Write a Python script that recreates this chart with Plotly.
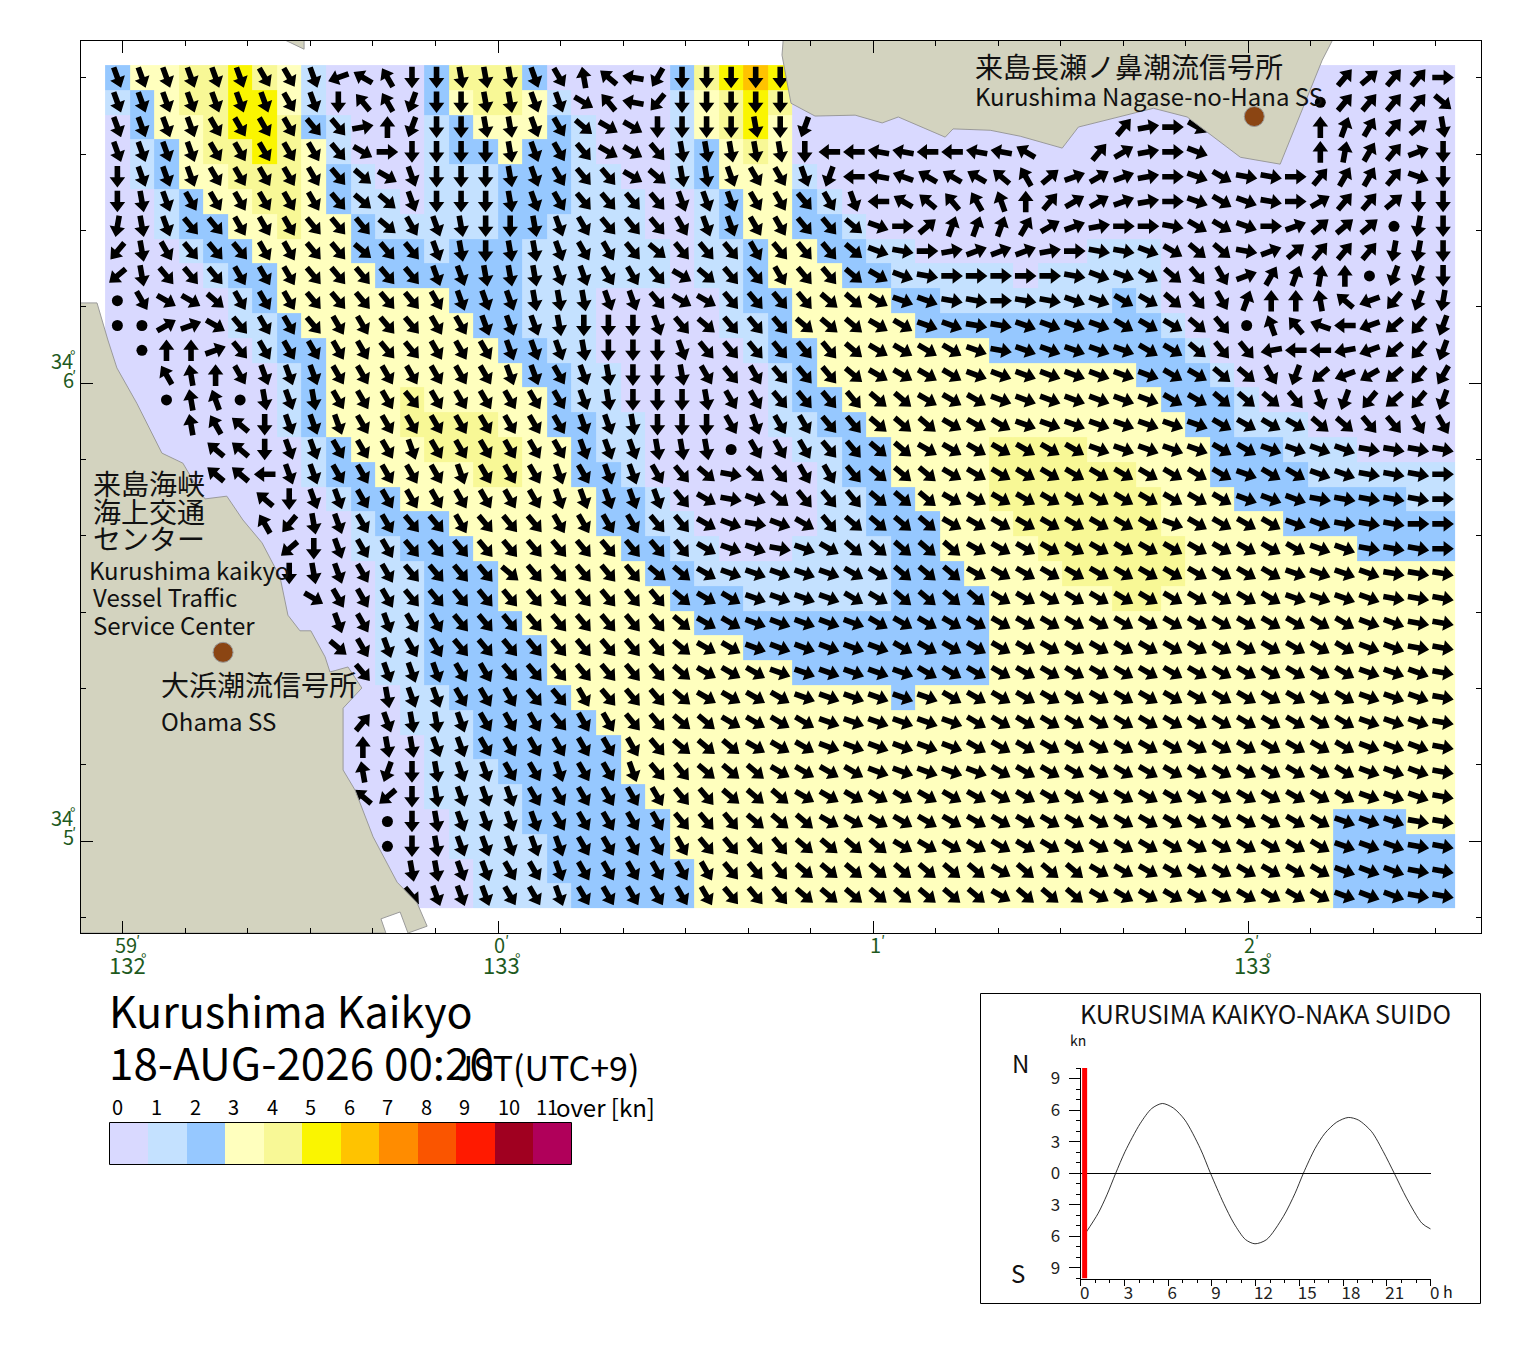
import numpy as np
import plotly.graph_objects as go

# current speed class per cell (0 = under 1 kn, 1 = 1-2 kn ...), north row first
speed_rows = [
    "2334454310000244420000024565" + "0"*27,
    "1234455310000234431000013454" + "0"*27,
    "0233455421000123332100013453" + "0"*27,
    "0123445431000122322100012343" + "0"*27,
    "01233444321001112221100123331" + "0"*26,
    "001233443211011122211100123321" + "0"*25,
    "0012233433211111221111001233221" + "0"*24,
    "000122333322212221111110112332211" + "0"*7 + "111" + "0"*12,
    "0000" + "1" + "22" + "3333" + "222222" + "111111" + "0" + "11" + "2" + "333" + "22" + "11111" + "0" + "11111" + "0"*12,
    "00000" + "1" + "2" + "3"*7 + "222" + "111" + "00000" + "1" + "22" + "3333" + "22" + "1"*7 + "2" + "1" + "0"*12,
    "00000" + "11" + "2" + "3"*7 + "22" + "111" + "00000" + "11" + "2" + "33333" + "2"*10 + "1" + "0"*11,
    "0"*6 + "1" + "22" + "3"*7 + "22" + "11" + "0"*6 + "1" + "22" + "3"*7 + "2"*8 + "1" + "0"*10,
    "0"*7 + "1" + "2" + "3"*8 + "22" + "11" + "0"*6 + "1" + "2" + "3"*13 + "222" + "1" + "0"*9,
    "0"*7 + "1" + "2" + "333" + "4" + "3"*5 + "2" + "11" + "0"*6 + "1" + "22" + "3"*13 + "222" + "1" + "0"*8,
    "0"*7 + "1" + "2" + "333" + "4444" + "33" + "22" + "11" + "0"*5 + "11" + "22" + "3"*13 + "22" + "111" + "0"*6,
    "0"*8 + "1" + "2" + "333" + "4444" + "33" + "2" + "11" + "0"*6 + "11" + "22" + "3333" + "4444" + "3"*5 + "222" + "111" + "0000",
    "0"*8 + "1" + "22" + "3333" + "44" + "33" + "22" + "1" + "0"*7 + "1" + "22" + "3333" + "4"*6 + "333" + "2222" + "1"*6,
    "0"*9 + "1" + "22" + "3"*8 + "22" + "1" + "0"*6 + "11" + "22" + "333" + "4"*7 + "333" + "2"*7 + "11",
    "0"*10 + "1" + "222" + "3"*6 + "22" + "11" + "0"*5 + "11" + "222" + "333" + "4"*6 + "3"*5 + "2"*7,
    "0"*10 + "11" + "222" + "3"*6 + "22" + "11" + "000" + "1111" + "22" + "3333" + "4"*6 + "3"*7 + "2222",
    "0"*11 + "11" + "222" + "3"*6 + "22" + "1"*8 + "222" + "3333" + "4"*5 + "3"*11,
    "0"*11 + "11" + "222" + "3"*7 + "222" + "1"*6 + "2222" + "3"*5 + "44" + "3"*12,
    "0"*11 + "11" + "2222" + "3"*7 + "2"*12 + "3"*19,
    "0"*11 + "11" + "2"*5 + "3"*8 + "2"*10 + "3"*19,
    "0"*11 + "11" + "2"*5 + "3"*10 + "2"*8 + "3"*19,
    "0"*12 + "11" + "2"*5 + "3"*13 + "2" + "3"*22,
    "0"*12 + "111" + "2"*5 + "3"*35,
    "0"*13 + "11" + "2"*6 + "3"*34,
    "0"*13 + "111" + "2"*5 + "3"*34,
    "0"*13 + "1111" + "2"*5 + "3"*33,
    "0"*14 + "111" + "2"*6 + "3"*27 + "222" + "33",
    "0"*14 + "1111" + "2"*5 + "3"*27 + "2"*5,
    "0"*15 + "111" + "2"*6 + "3"*26 + "2"*5,
    "0"*15 + "1111" + "2"*5 + "3"*26 + "2"*5,
]

# flow bearing per cell, base 36 in tens of degrees (i = 180, r = 270), * slack, . no arrow
bearing_rows = [
    "ggggggffgpuxiihhhgfzvsliiiii" + "."*22 + "45449",
    "gggggggfgiwxkiihhggcwsmiiiii" + "."*21 + "*4444d",
    "ggggffffee80kiihhgfdcciiiihik" + "."*12 + "489c" + "...." + "02345h",
    "ggggfffffec9iiiihgfeccehhhhhirrssrrssu..4689b....01347i",
    "igggfffffedcgiiihgfeecdhhgffgkrstuuuvx576789bcaa94334bi",
    "ihgffffffeddgiiihgfeeeegggffefgruvwxy0466789bcba96445ii",
    "jhgeefffeeedfghiihgfeeefggffeedb95222367899accb97555*ji",
    "mhfeeeffeedeeghihhgffedeeefeeedba9877789aabcdda75444jji",
    "nheeefffeeeeegghhhggffecdeefeedcba99999abbcdef73210*kki",
    "*fccdfffeeeeefggghhhggecceeeeddcbbaa9aabbccdef200zvpmkj",
    "**67ceffeffeeffggghiiigedeeedddccbbaabbbbcccde*ywtrpnmk",
    ".*007efffffeefffggghiiigeeeeeedccccbabbbbbccdeeqrrqpnmk",
    "..xz0fgggfffffffggfghiihfefeeedccccbbbbbbbbccddfknponml",
    "..*zy*hghfffeffffffghiiihffeeeeddcccbbbbbbbccdddegkmnmk",
    "...zxvigggfffffffffgghiiifgffeedddcccbbbbbbbbccccddeeff",
    "....vviggfffgffffffggghhh*fffeeddcccccccbbbbbccbbbbaaaa",
    "....vvrggfffffgfffgfggfedadeffedddccccccccccccbccbbaaa9",
    "......viggffffffffgggggecabdeeedddccccccccccccbbbaaaaa9",
    "......xmhgffeefeeeffffeecbabcedddd" + "c"*9 + "bccccbbaaa99",
    "."*7 + "nigff" + "e"*12 + "cbbabc" + "ddddd" + "c"*14 + "bbaaa9",
    "."*7 + "ihgff" + "eeee" + "d" + "eeeee" + "dd" + "c" + "bbbbb" + "cc" + "ddd" + "c"*13 + "bbbb" + "aaa",
    "."*8 + "cfff" + "e"*11 + "dcc" + "bbbb" + "cc" + "dddd" + "c"*12 + "bbbb" + "aaa",
    "."*9 + "gfgff" + "e"*9 + "dcc" + "bbbbb" + "c"*20 + "bbaa",
    "."*9 + "dfgff" + "e"*9 + "dcc" + "b"*6 + "c"*19 + "bbaa",
    "."*10 + "eggg" + "ff" + "e"*7 + "d" + "ccc" + "b"*6 + "c"*18 + "bbba",
    "."*11 + "hgg" + "fff" + "ee" + "f" + "eee" + "d" + "cccc" + "b"*6 + "c"*17 + "bbba",
    "."*10 + "4ghhg" + "fff" + "e" + "ff" + "ee" + "dd" + "cccc" + "b"*6 + "c"*16 + "bbba",
    "."*10 + "0hhgg" + "f"*7 + "e" + "ddd" + "ccc" + "b"*6 + "c"*16 + "bbba",
    "."*10 + "zkihgg" + "ff" + "g" + "ff" + "g" + "ee" + "ddd" + "cccc" + "bbbbb" + "c"*15 + "bbba",
    "."*10 + "vnih" + "ggg" + "f"*6 + "ee" + "ddd" + "c"*23 + "bbba",
    "."*11 + "*ih" + "gggg" + "fffff" + "eee" + "ddd" + "c"*21 + "bbb" + "aa",
    "."*11 + "*ih" + "ggggg" + "fffff" + "eeee" + "dddd" + "c"*18 + "bbbaa",
    "."*12 + "hhggffg" + "f"*6 + "eee" + "d"*8 + "c" + "ddd" + "c"*10 + "bbbaa",
    "."*12 + "egggffg" + "f"*6 + "eee" + "d"*8 + "c" + "ddd" + "c"*10 + "bbbaa",
]

for r, (a, b) in enumerate(zip(speed_rows, bearing_rows)):
    assert len(a) == 55 and len(b) == 55, (r, len(a), len(b))

# coast, minutes of longitude from 133-00 and of latitude from 34-05
west_lon = [-1.113, -1.069, -1.040, -1.016, -0.963, -0.896, -0.840, -0.803, -0.781, -0.723, -0.680,
            -0.629, -0.581, -0.560, -0.528, -0.499, -0.461, -0.448, -0.400, -0.363, -0.413, -0.413,
            -0.381, -0.333, -0.269, -0.216, -0.189, -0.240, -0.261, -0.312, -0.299, -1.113]
west_lat = [1.175, 1.175, 1.094, 1.033, 0.956, 0.847, 0.825, 0.773, 0.747, 0.753, 0.701,
            0.651, 0.576, 0.493, 0.459, 0.459, 0.402, 0.369, 0.380, 0.334, 0.290, 0.155,
            0.111, 0.009, -0.090, -0.135, -0.186, -0.201, -0.155, -0.170, -0.201, -0.201]
north_lon = [0.760, 0.757, 0.781, 0.845, 0.952, 1.024, 1.067, 1.192, 1.213, 1.312, 1.392, 1.504,
             1.547, 1.747, 1.837, 1.979, 2.085, 2.197, 2.224]
north_lat = [1.748, 1.716, 1.611, 1.583, 1.585, 1.568, 1.581, 1.537, 1.555, 1.552, 1.539, 1.513,
             1.559, 1.600, 1.581, 1.493, 1.478, 1.705, 1.748]
islet_lon = [-0.568, -0.517, -0.517]
islet_lat = [1.749, 1.729, 1.748]
station_lon = [2.016, -0.733]
station_lat = [1.582, 0.412]

speed_colors = ["#d9d9ff", "#c4e1ff", "#96c8ff", "#ffffbe", "#f8f896", "#faf500",
                "#ffc300", "#ff8c00", "#fa5500", "#ff1a00", "#a00020", "#b0005a"]
speed_labels = ["0", "1", "2", "3", "4", "5", "6", "7", "8", "9", "10", "11"]

# tidal current at the strait, hours and knots (N positive)
tide_hour = [0.33, 1.2, 1.8, 2.4, 3.04, 4.07, 4.87, 5.6, 6.35, 7.15, 8.2, 8.9, 9.8, 10.5, 11.3, 11.95,
             12.75, 13.9, 14.7, 15.27, 16.07, 16.75, 17.55, 18.35, 19.05, 19.95, 20.75, 21.5, 22.35, 23.4, 24]
tide_knots = [-5.7, -3.8, -2.05, 0, 2.05, 4.7, 6.15, 6.63, 6.2, 5.05, 2.35, 0, -2.85, -4.75, -6.3, -6.7,
              -6.3, -4.1, -1.9, 0, 2.35, 3.8, 4.85, 5.3, 5.05, 3.95, 2.05, 0, -2.37, -4.75, -5.3]
now_hour = 0.27

FONT = "Noto Sans CJK JP"
GREEN = "#1e5a1e"
W, H = 1504, 1337   # page body keeps an 8 px margin


def fx(px):
    return (px - 8) / W


def fy(py):
    return 1 - (py - 8) / H


# main map axes
x_range = [-1.113, 2.619]
y_range = [-0.2009, 1.748]
px_per_lon = (1480.5 - 80.5) / (x_range[1] - x_range[0])
px_per_lat = (933 - 40.5) / (y_range[1] - y_range[0])

cell_lon = 24.55 / px_per_lon
cell_lat = 24.8 / px_per_lat
lon0 = -1.0147
lat0 = 1.6672
lons = lon0 + cell_lon * np.arange(55)
lats = lat0 - cell_lat * np.arange(34)

speed = np.array([[int(c) + 0.5 for c in row] for row in speed_rows])

stops = []
for i, c in enumerate(speed_colors):
    stops += [[i / 12, c], [(i + 1) / 12, c]]

fig = go.Figure()
# the tiny gap keeps plotly off its scaled image path, which blurs the cell edges
fig.add_trace(go.Heatmap(x=lons, y=lats, z=speed, zmin=0, zmax=12, colorscale=stops,
                         showscale=False, hoverinfo="skip", xgap=0.01))

# block arrows as one filled path, shape in pixels along the bearing
shape_along = np.array([-10.8, 0.5, 0.5, 10.8, 0.5, 0.5, -10.8, -10.8])
shape_across = np.array([2.8, 2.8, 7.8, 0, -7.8, -2.8, -2.8, 2.8])
ax_x, ax_y, dot_x, dot_y = [], [], [], []
for r, row in enumerate(bearing_rows):
    for c, ch in enumerate(row):
        if ch == ".":
            continue
        if ch == "*":
            dot_x.append(lons[c])
            dot_y.append(lats[r])
            continue
        b = np.radians(int(ch, 36) * 10)
        dx = shape_along * np.sin(b) + shape_across * np.cos(b)
        dy = shape_along * np.cos(b) - shape_across * np.sin(b)
        ax_x += list(lons[c] + dx / px_per_lon) + [None]
        ax_y += list(lats[r] + dy / px_per_lat) + [None]

fig.add_trace(go.Scatter(x=ax_x, y=ax_y, mode="lines", fill="toself", fillcolor="black",
                         line=dict(width=0, color="black"), hoverinfo="skip", showlegend=False))
fig.add_trace(go.Scatter(x=dot_x, y=dot_y, mode="markers", hoverinfo="skip", showlegend=False,
                         marker=dict(size=11, color="black", line=dict(width=0))))

# land goes over the arrows
for lo, la in [(west_lon, west_lat), (north_lon, north_lat), (islet_lon, islet_lat)]:
    fig.add_trace(go.Scatter(x=lo, y=la, mode="lines", fill="toself", fillcolor="#d3d3bf",
                             line=dict(width=1, color="#9a9a9a"), hoverinfo="skip", showlegend=False))
fig.add_trace(go.Scatter(x=station_lon, y=station_lat, mode="markers", hoverinfo="skip", showlegend=False,
                         marker=dict(size=20, color="#8b4513", line=dict(width=1, color="#999999"))))

# colour scale strip
fig.add_trace(go.Heatmap(x=np.arange(12) + 0.5, y=[0], z=[np.arange(12) + 0.5], zmin=0, zmax=12,
                         colorscale=stops, showscale=False, hoverinfo="skip", xaxis="x3", yaxis="y3"))

# tide panel
fig.add_trace(go.Scatter(x=tide_hour, y=tide_knots, mode="lines", xaxis="x4", yaxis="y4",
                         line=dict(color="black", width=0.8, shape="spline", smoothing=0.8),
                         hoverinfo="skip", showlegend=False))
fig.add_trace(go.Scatter(x=[now_hour, now_hour], y=[-10, 10], mode="lines", xaxis="x4", yaxis="y4",
                         line=dict(color="#ff0000", width=5), hoverinfo="skip", showlegend=False))

notes = []


def label(text, x, y, size, color="#111111", anchor="left"):
    notes.append(dict(text=text, x=fx(x), y=fy(y - 2), xref="paper", yref="paper", showarrow=False,
                      xanchor=anchor, yanchor="middle", borderpad=0,
                      font=dict(family=FONT, size=size, color=color)))


label("来島長瀬ノ鼻潮流信号所", 974, 68, 28)
label("Kurushima Nagase-no-Hana SS", 974, 97, 24)
label("来島海峡", 92, 485, 28)
label("海上交通", 92, 513, 28)
label("センター", 92, 540, 28)
label("Kurushima kaikyo", 88, 571, 24)
label("Vessel Traffic", 92, 598, 24)
label("Service Center", 92, 626, 24)
label("大浜潮流信号所", 160, 686, 28)
label("Ohama SS", 160, 722, 24)

for base, prime, px in [("59", "′", 114), ("0", "′", 493), ("1", "′", 869), ("2", "′", 1243)]:
    label(base, px, 946, 20, GREEN)
    label(prime, px + 21 if base == "59" else px + 11, 942, 15, GREEN)
for base, px in [("132", 108), ("133", 482), ("133", 1233)]:
    label(base, px, 966, 22, GREEN)
    label("°", px + 32, 960, 15, GREEN)
for base, py in [("6", 381), ("5", 838)]:
    label("34", 50, py - 19, 20, GREEN)
    label("°", 69, py - 24, 15, GREEN)
    label(base, 62, py, 20, GREEN)
    label("′", 71, py - 4, 15, GREEN)

label("Kurushima Kaikyo", 108, 1011, 43, "black")
label("18-AUG-2026 00:20", 108, 1063, 44, "black")
label("JST(UTC+9)", 454, 1068, 34, "black")
label("over [kn]", 555, 1108, 24, "black")
for i, s in enumerate(speed_labels):
    label(s, 111.5 + 38.5 * i, 1108, 20, "black")

label("KURUSIMA KAIKYO-NAKA SUIDO", 1079, 1015, 25)
label("kn", 1069, 1042, 14)
label("N", 1011, 1064, 24)
label("S", 1010, 1274, 24)
label("h", 1442, 1293, 16)

frame = dict(type="rect", xref="paper", yref="paper", line=dict(color="black", width=1))
shapes = [
    dict(frame, x0=fx(980.5), x1=fx(1480.5), y0=fy(1303.5), y1=fy(993.5)),
    dict(frame, x0=fx(109.5), x1=fx(571.5), y0=fy(1164.5), y1=fy(1122.5)),
]

fig.update_layout(
    width=W, height=H, margin=dict(l=0, r=0, t=0, b=0, autoexpand=False),
    autosize=False, paper_bgcolor="white", plot_bgcolor="white", showlegend=False,
    annotations=notes, shapes=shapes,
    font=dict(family=FONT),
    xaxis=dict(domain=[fx(80.5), fx(1480.5)], range=x_range, showgrid=False, zeroline=False,
               showline=True, linecolor="black", linewidth=1, mirror="allticks",
               ticks="inside", tickcolor="black", ticklen=12, tickwidth=1, dtick=1, tick0=0,
               showticklabels=False,
               minor=dict(ticks="inside", dtick=1 / 6, tick0=0, ticklen=5, tickcolor="black", showgrid=False)),
    yaxis=dict(domain=[fy(933), fy(40.5)], range=y_range, showgrid=False, zeroline=False,
               showline=True, linecolor="black", linewidth=1, mirror="allticks",
               ticks="inside", tickcolor="black", ticklen=12, tickwidth=1, dtick=1, tick0=0,
               showticklabels=False,
               minor=dict(ticks="inside", dtick=1 / 6, tick0=0, ticklen=5, tickcolor="black", showgrid=False)),
    # half-minute ticks sit on an overlay of the same range
    xaxis2=dict(overlaying="x", matches="x", anchor="y", ticks="inside", ticklen=8, tickcolor="black",
                dtick=0.5, tick0=0, mirror="allticks", showticklabels=False, showgrid=False, zeroline=False,
                showline=False),
    yaxis2=dict(overlaying="y", matches="y", anchor="x", ticks="inside", ticklen=8, tickcolor="black",
                dtick=0.5, tick0=0, mirror="allticks", showticklabels=False, showgrid=False, zeroline=False,
                showline=False),
    xaxis3=dict(domain=[fx(109.5), fx(571.5)], range=[0, 12], anchor="y3", visible=False),
    yaxis3=dict(domain=[fy(1164.5), fy(1122.5)], range=[-0.5, 0.5], anchor="x3", visible=False),
    xaxis4=dict(domain=[fx(1080.7), fx(1430.7)], range=[0, 24], anchor="y4", showgrid=False, zeroline=False,
                showline=True, linecolor="black", linewidth=1, ticks="outside", ticklen=6, tickcolor="black",
                tickvals=[0, 3, 6, 9, 12, 15, 18, 21, 24],
                ticktext=["0", "3", "6", "9", "\u00a0\u00a012", "\u00a0\u00a015", "\u00a0\u00a018", "\u00a0\u00a021", "0"],
                ticklabelshift=4, ticklabelstandoff=-7,
                tickfont=dict(family=FONT, size=17, color="#222222"),
                minor=dict(ticks="outside", dtick=1, tick0=0, ticklen=3, tickcolor="black", showgrid=False)),
    yaxis4=dict(domain=[fy(1278.5), fy(1068)], range=[-10, 10], anchor="x4", showgrid=False,
                zeroline=True, zerolinecolor="black", zerolinewidth=1,
                showline=True, linecolor="black", linewidth=1, ticks="outside", ticklen=11, tickcolor="black",
                tickvals=[-9, -6, -3, 0, 3, 6, 9], ticktext=["9", "6", "3", "0", "3", "6", "9"],
                ticklabelstandoff=5,
                tickfont=dict(family=FONT, size=17, color="#222222"),
                minor=dict(ticks="outside", dtick=1, tick0=0, ticklen=4, tickcolor="black", showgrid=False)),
)

fig.write_html("out.html")
